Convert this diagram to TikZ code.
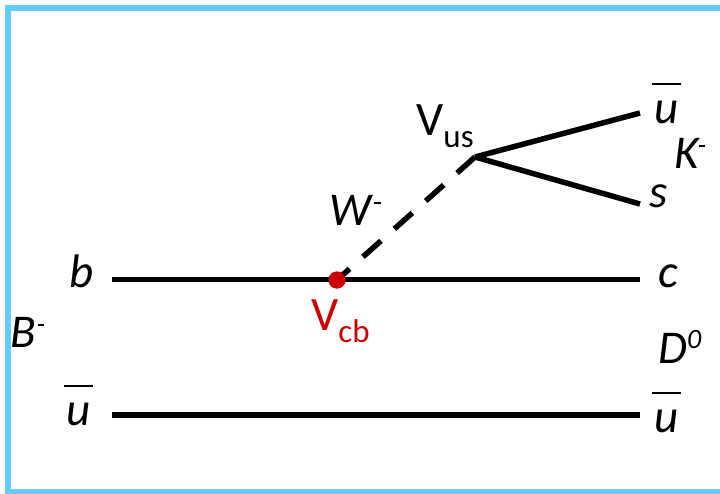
\documentclass[tikz,border=0pt]{standalone}
\usepackage{fontspec}
\setmainfont{Carlito}
\definecolor{framecol}{RGB}{102,204,255}
\definecolor{vred}{RGB}{204,0,0}
\newcommand{\antiu}{\makebox[0pt][l]{\hspace{-2pt}\rule[38pt]{29pt}{2.2pt}}u}
\newcommand{\supminus}[1]{\kern#1\rule[21pt]{6.5pt}{2.4pt}}
\newcommand{\vsub}[1]{V\raisebox{-12pt}{\fontsize{33}{33}\selectfont #1}}
\tikzset{
  quark/.style={line width=5.5pt},
  wline/.style={line width=5.5pt, dash pattern=on 24pt off 18pt},
  lab/.style={font=\fontsize{47}{47}\selectfont\itshape, inner sep=0pt, anchor=base west},
  vlab/.style={font=\fontsize{48}{48}\selectfont, inner sep=0pt, anchor=base west},
  vertexdot/.style={circle, fill=vred, inner sep=0pt, minimum size=17pt},
}
\begin{document}
\begin{tikzpicture}[x=1pt,y=-1pt]
\useasboundingbox (0,0) rectangle (720,493);
\clip (0,0) rectangle (720,493);
\draw[framecol, line width=6.5pt] (8,8) rectangle (790,492);

% coordinates
\coordinate (bL) at (112,279.5);
\coordinate (cR) at (640,279.5);
\coordinate (uL) at (112,415);
\coordinate (uR) at (640,415);
\coordinate (vus) at (475,157);
\coordinate (ubarEnd) at (640,113);
\coordinate (sEnd) at (640,204);

% quark lines
\draw[quark] (bL) -- (cR);
\draw[quark] (uL) -- (uR);
\draw[quark] (vus) -- (ubarEnd);
\draw[quark] (vus) -- (sEnd);

\node[vertexdot] (vcb) at (337,280) {};
\draw[wline] (vus) -- (vcb.center);
\node[vertexdot] at (vcb) {};

% labels
\node[lab] (tb) at (69,287) {b};
\node[lab] (tB) at (10,347) {B\supminus{2pt}};
\node[lab] (tuL) at (66,425) {\antiu};
\node[vlab, text=vred] (tvcb) at (311,330) {\vsub{cb}};
\node[lab] (tW) at (329,225) {W\supminus{3pt}};
\node[vlab] (tvus) at (416,135) {\vsub{us}};
\node[lab] (tuT) at (654,123) {\antiu};
\node[lab] (tK) at (674,168) {K\supminus{0pt}};
\node[lab] (ts) at (649,207) {s};
\node[lab] (tc) at (658,287) {c};
\node[lab] (tD) at (658,363) {D\raisebox{15pt}{\fontsize{28}{28}\selectfont 0}};
\node[lab] (tuB) at (654,432) {\antiu};
\end{tikzpicture}
\end{document}
